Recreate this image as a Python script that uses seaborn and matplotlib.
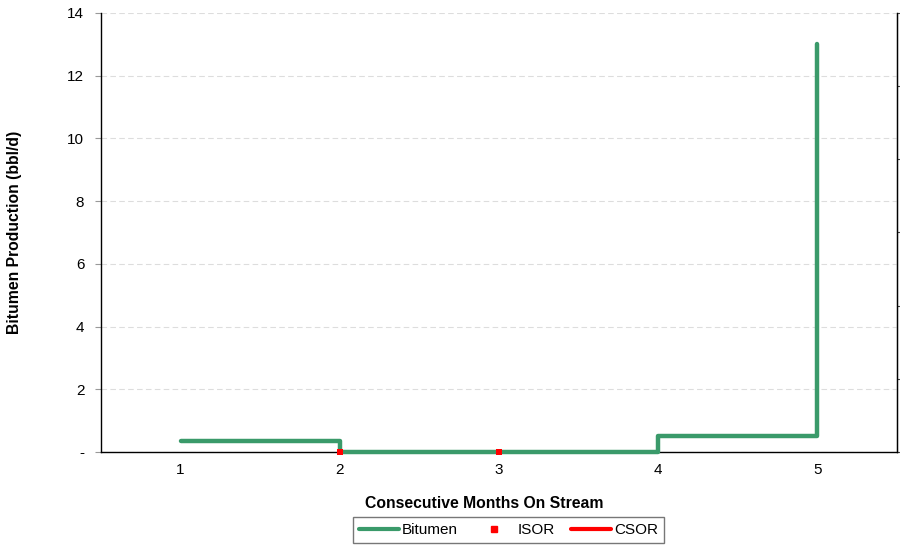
import numpy as np
import pandas as pd
import matplotlib
matplotlib.use('Agg')
import matplotlib.pyplot as plt
import seaborn as sns
from matplotlib.lines import Line2D

months = [1, 2, 3, 4, 5]
bitumen = [0.35, 0.0, 0.0, 0.5, 13.0]
isor_months = [2, 3]
isor = [0.0, 0.0]
csor_months = []
csor = []

sns.set_style('white')
plt.rcParams['font.family'] = ['Liberation Sans', 'DejaVu Sans']
plt.rcParams['text.color'] = 'black'
plt.rcParams['axes.labelcolor'] = 'black'

green = '#3a9a6a'
red = '#ff0000'

fig = plt.figure(figsize=(9, 5.48), dpi=100)
ax = fig.add_axes([0.1122, 0.1752, 0.8845, 0.8011])

df = pd.DataFrame({'month': months, 'bitumen': bitumen})
sns.lineplot(data=df, x='month', y='bitumen', ax=ax, color=green, lw=3.2,
             drawstyle='steps-post', zorder=3, clip_on=False)
sns.scatterplot(x=isor_months, y=isor, ax=ax, color=red, marker='s', s=22,
                linewidth=0, zorder=5, clip_on=False)
ax.plot(csor_months, csor, color=red, lw=3)

ax.set_xlim(0.5, 5.5)
ax.set_ylim(0, 14)
ax.set_xticks(months)
ax.set_xticks(np.arange(0.5, 6, 1), minor=True)
ax.tick_params(axis='x', which='major', length=0, pad=8, labelsize=11, labelcolor='black')
ax.tick_params(axis='x', which='minor', length=4, color='#999999', direction='out')
ax.set_yticks(range(0, 15, 2))
ax.set_yticklabels(['-'] + [str(v) for v in range(2, 15, 2)])
ax.tick_params(axis='y', length=4, color='#999999', direction='out', pad=8,
               labelsize=11, labelcolor='black')

ax.grid(axis='y', color='#dddddd', ls=(0, (5, 3)), lw=0.8)
ax.set_axisbelow(True)
for s in ['left', 'bottom', 'right']:
    ax.spines[s].set_visible(True)
    ax.spines[s].set_color('black')
    ax.spines[s].set_linewidth(1)
ax.spines['top'].set_visible(False)

ax2 = ax.twinx()
ax2.set_ylim(0, 6)
ax2.set_yticks(range(0, 7))
ax2.set_yticklabels([])
ax2.tick_params(axis='y', length=4, color='#444444', direction='out')
for s in ['left', 'bottom', 'top']:
    ax2.spines[s].set_visible(False)
ax2.spines['right'].set_color('black')
ax.set_zorder(ax2.get_zorder() + 1)
ax.patch.set_visible(False)

ax.set_xlabel('Consecutive Months On Stream', fontsize=11.3, fontweight='bold')
ax.xaxis.set_label_coords(0.482, -0.100)
ax.set_ylabel('Bitumen Production (bbl/d)', fontsize=11.3, fontweight='bold')
ax.yaxis.set_label_coords(-0.099, 0.5)

handles = [Line2D([], [], color=green, lw=3),
           Line2D([], [], color=red, marker='s', ls='none', markersize=4),
           Line2D([], [], color=red, lw=3)]
leg = fig.legend(handles, ['Bitumen', 'ISOR', 'CSOR'], ncol=3, loc='center',
                 bbox_to_anchor=(0.565, 0.033), fontsize=11, frameon=True,
                 fancybox=False, edgecolor='#555555', handlelength=2.6,
                 handletextpad=0.2, columnspacing=1.1, borderpad=0.4)
leg.get_frame().set_linewidth(1)

fig.savefig('out.png', dpi=100)
